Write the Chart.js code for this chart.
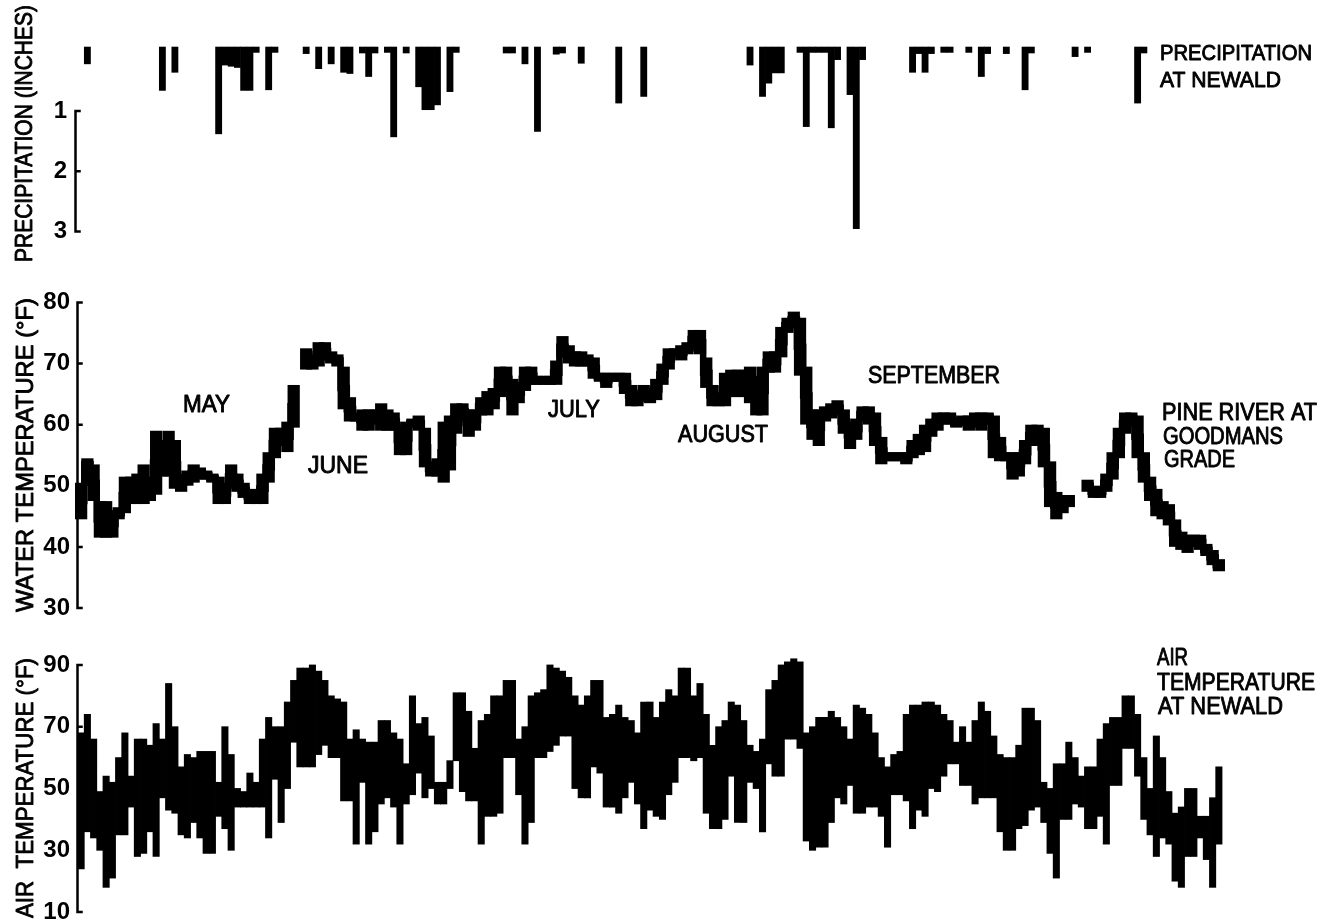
<!DOCTYPE html>
<html>
<head>
<meta charset="utf-8">
<title>Pine River at Goodmans Grade</title>
<script src="https://cdn.jsdelivr.net/npm/chart.js@4.4.1/dist/chart.umd.min.js"></script>
<style>
  html, body { margin: 0; padding: 0; background: #fff; overflow: hidden; width: 1324px; height: 921px; }
  canvas { position: absolute; left: 0; }
  #precipCanvas { top: 0; }
  #waterCanvas { top: 280px; }
  #airCanvas { top: 640px; }
</style>
</head>
<body>
<canvas id="precipCanvas" width="1324" height="290"></canvas>
<canvas id="waterCanvas" width="1324" height="360"></canvas>
<canvas id="airCanvas" width="1324" height="300"></canvas>
<script>
// Daily record, late April through late October (day index 0 = first day).
const dayCount = 183;

const precipTicks = [1, 2, 3];
const waterTicks = [30, 40, 50, 60, 70, 80];
const airTicks = [10, 30, 50, 70, 90];

// Daily precipitation at Newald, inches (ten days per row, null = no rain).
const precipInches = [
  null, 0.22, null, null, null, null, null, null, null, null,
  null, null, null, 0.66, null, 0.36, null, null, null, null,
  null, null, 1.38, 0.24, 0.26, 0.28, 0.66, 0.66, 0.03, null,
  0.65, 0.03, null, null, null, null, 0.05, null, 0.30, null,
  0.22, null, 0.36, 0.38, null, 0.04, 0.43, 0.04, null, 0.03,
  1.43, null, 0.04, null, 0.60, 0.98, 0.98, 0.90, null, 0.68,
  0.03, null, null, null, null, null, null, null, 0.04, 0.04,
  null, 0.22, null, 1.34, null, null, 0.06, 0.04, null, null,
  0.21, null, null, null, null, null, 0.87, null, null, null,
  0.76, null, null, null, null, null, null, null, null, null,
  null, null, null, null, null, null, null, 0.24, null, 0.76,
  0.54, 0.37, 0.37, null, null, 0.03, 1.26, 0.03, 0.03, 0.03,
  1.28, 0.15, null, 0.73, 2.95, 0.15, null, null, null, null,
  null, null, null, 0.36, 0.05, 0.36, 0.05, null, 0.03, 0.03,
  null, null, 0.03, null, 0.43, 0.05, null, null, 0.05, null,
  null, 0.65, 0.04, null, null, null, null, null, null, 0.10,
  null, 0.03, null, null, null, null, null, null, null, 0.87,
  0.04, null, null, null, null, null, null, null, null, null,
  null, null, null
];

// Daily minimum / maximum water temperature, Pine River at Goodmans Grade (°F).
const waterLow = [
  45, 53, 48, 42, 42, 42, 45, 46, 47.5, 47.5,
  47.5, 48, 49, 52, 52, 50, 49.5, 50.5, 51, 51.5,
  51.5, 51, 47.5, 47.5, 50, 49.5, 48.5, 47.5, 47.5, 47.5,
  51, 55, 57, 56, 60, null, 69.5, 69.5, 70, 71,
  70.5, 70, 63, 61, 61, 59.5, 59.5, 60.5, 59.5, 59.5,
  59.5, 55.5, 55.5, 60, 59.5, 53.5, 52, 52, 51, 53,
  59, 61.5, 58.5, 59.5, 62, 62, 63, 65, 66, 62,
  64, 66, 67, 67, 67, 67, 67, 71.5, 70.5, 70,
  70, 70, 68, 67.5, 66.5, 67.5, 67.5, 65.5, 63.5, 63.5,
  64.5, 64, 64.5, 67, 69.5, 71.5, 71, 72, 73, 72,
  66.5, 63.5, 63.5, 63.5, 65, 65, 65, 64, 62, 62,
  69, 69, 71.5, 75.5, 76.5, 68.5, 60.5, 58, 57, 61,
  61.5, 62, 59, 56.5, 58, 61, 60.5, 57, 54, 54.5,
  54.5, 54.5, 54, 55, 55.5, 56, 58.5, 59.5, 60.5, 60.5,
  60, 60.5, 59.5, 60, 59.5, 61, 55, 54.5, 54.5, 51.5,
  52, 54, 57, 57, 53.5, 47, 45, 46, 47, null,
  null, 49.5, 48.5, 48.5, 49.5, 51.5, 55, 59, 60.5, 55,
  51, 48, 45.5, 45, 44, 40.5, 40, 39.5, 40.5, 40,
  39, 37.5, 36.5
];
const waterHigh = [
  50, 54, 53, 47, 47, 45.5, 46, 51, 51, 51.5,
  53, 51, 58.5, 57, 58.5, 57, 51.5, 52, 53, 52.5,
  52, 51.5, 51, 50, 53, 51.5, 50, 49, 48, 51.5,
  55, 59, 59, 60, 66, null, 72, 71, 73, 73,
  71.5, 71, 69, 64, 61.5, 62, 62, 62, 63, 62,
  61.5, 59.5, 60, 60.5, 61, 59, 53.5, 54, 60, 61,
  63, 63, 62, 62, 64, 65, 65.5, 69, 69, 67,
  66.5, 69, 69, 67.5, 67.5, 67.5, 70, 74, 72.5, 71.5,
  71.5, 71, 70.5, 68, 68, 68, 68, 68, 66, 65,
  66, 65.5, 67, 69.5, 72, 72, 72.5, 73, 75, 75,
  70.5, 66, 64, 68, 68.5, 68.5, 68.5, 69, 67.5, 69,
  71.5, 71.5, 75.5, 77, 78, 77, 69, 62, 62, 62.5,
  63, 63.5, 62, 60, 60.5, 62.5, 62.5, 61.5, 57.5, 55,
  55, 55, 55, 57, 58, 59.5, 60.5, 61.5, 61.5, 61.5,
  60.5, 61, 61, 61.5, 61.5, 61.5, 61, 57.5, 55, 55,
  55, 57, 59.5, 59.5, 59, 53.5, 48.5, 48, 48, null,
  null, 50.5, 49.5, 49.5, 51.5, 55, 59, 61.5, 61.5, 61,
  55, 51, 49, 47, 46.5, 44, 42, 41.5, 41.5, 41.5,
  40, 39, 37.5
];

// Daily minimum / maximum air temperature at Newald (°F).
const airLow = [
  24, 36, 34, 30, 18, 21, 35, 35, 44, 28,
  29, 36, 28, 47, 43, 42, 35, 34, 39, 34,
  29, 29, 41, 37, 30, 44, 44, 44, 44, 44,
  34, 53, 39, 50, 65, 57, 57, 57, 61, 64,
  60, 60, 46, 46, 32, 52, 32, 36, 45, 47,
  44, 32, 45, 48, 55, 47, 50, 45, 45, 50,
  59, 49, 46, 46, 32, 41, 41, 42, 60, 60,
  48, 32, 39, 60, 60, 62, 64, 67, 67, 50,
  47, 47, 57, 55, 44, 44, 42, 47, 52, 45,
  37, 43, 41, 40, 48, 52, 60, 60, 59, 60,
  42, 37, 37, 40, 54, 39, 39, 52, 50, 36,
  58, 54, 54, 66, 66, 63, 33, 30, 31, 31,
  39, 47, 45, 51, 42, 42, 44, 44, 41, 31,
  48, 48, 46, 37, 43, 41, 50, 49, 54, 58,
  58, 51, 51, 45, 47, 47, 47, 36, 30, 30,
  37, 38, 43, 44, 39, 29, 21, 40, 40, 45,
  44, 37, 37, 41, 32, 51, 51, 63, 63, 54,
  40, 35, 28, 34, 32, 20, 18, 28, 28, 34,
  27, 18, 32
];
const airHigh = [
  68, 74, 66, 49, 54, 52, 60, 68, 54, 66,
  66, 64, 71, 66, 84, 70, 57, 61, 60, 62,
  62, 62, 52, 70, 61, 50, 49, 55, 52, 66,
  73, 70, 70, 78, 85, 89, 89, 90, 88, 85,
  80, 79, 78, 66, 69, 66, 65, 65, 72, 72,
  68, 66, 58, 80, 71, 73, 67, 52, 52, 59,
  81, 81, 75, 63, 72, 74, 80, 80, 85, 85,
  66, 70, 80, 81, 82, 90, 89, 88, 86, 80,
  77, 80, 85, 85, 73, 74, 77, 73, 72, 68,
  78, 78, 73, 78, 82, 80, 89, 89, 80, 84,
  74, 64, 70, 72, 78, 77, 72, 64, 62, 66,
  82, 85, 90, 91, 92, 91, 68, 70, 73, 73,
  75, 73, 70, 66, 77, 76, 74, 68, 60, 57,
  61, 62, 74, 77, 77, 78, 78, 77, 74, 72,
  65, 70, 65, 72, 78, 75, 67, 61, 60, 60,
  64, 76, 76, 72, 52, 50, 58, 58, 65, 60,
  54, 57, 57, 66, 71, 73, 73, 80, 80, 74,
  60, 50, 67, 60, 49, 42, 44, 50, 50, 41,
  41, 47, 57
];

const FONT = '"Liberation Sans", Arial, Helvetica, sans-serif';
Chart.defaults.font.family = FONT;
Chart.defaults.color = '#000';

// Draws a lettered caption (pen-weight stroke) fitted to a given run length.
function fitText(ctx, text, x, y, width, size, vertical) {
  ctx.save();
  ctx.font = size + 'px ' + FONT;
  ctx.fillStyle = '#000';
  ctx.strokeStyle = '#000';
  ctx.lineWidth = 0.9;
  ctx.lineJoin = 'round';
  ctx.textBaseline = 'alphabetic';
  ctx.textAlign = 'left';
  const sx = width / ctx.measureText(text).width;
  ctx.translate(x, y);
  if (vertical) ctx.rotate(-Math.PI / 2);
  ctx.scale(sx, 1);
  ctx.fillText(text, 0, 0);
  ctx.strokeText(text, 0, 0);
  ctx.restore();
}

// Bracket-style value axis with inward tick marks plus free captions.
function decorPlugin(panelTop, axisTicks, axisShift, captions) {
  return {
    id: 'decor',
    afterDatasetsDraw(chart) {
      const ctx = chart.ctx;
      const y = chart.scales.y;
      const x0 = chart.chartArea.left - axisShift;
      const yA = y.getPixelForValue(axisTicks[0]);
      const yB = y.getPixelForValue(axisTicks[axisTicks.length - 1]);
      ctx.save();
      ctx.strokeStyle = '#000';
      ctx.lineWidth = 2.5;
      ctx.lineCap = 'square';
      ctx.beginPath();
      ctx.moveTo(x0, Math.min(yA, yB));
      ctx.lineTo(x0, Math.max(yA, yB));
      axisTicks.forEach(v => {
        const py = y.getPixelForValue(v);
        ctx.moveTo(x0, py);
        ctx.lineTo(x0 + 4, py);
      });
      ctx.stroke();
      ctx.restore();
      captions.forEach(c => fitText(ctx, c.text, c.x, c.y - panelTop, c.w, c.size, c.vertical));
    }
  };
}

function panelOptions(o) {
  return {
    responsive: false,
    animation: false,
    events: [],
    layout: { padding: { top: o.padTop, bottom: o.padBottom, left: 0, right: 102 } },
    plugins: { legend: { display: false }, tooltip: { enabled: false } },
    scales: {
      x: { type: 'linear', min: 0, max: dayCount, display: false, offset: false },
      y: {
        type: 'linear',
        min: o.min, max: o.max, reverse: !!o.reverse,
        grid: { display: false, drawTicks: false },
        border: { display: false },
        afterFit(s) { s.width = 78; },
        afterBuildTicks(s) { s.ticks = o.ticks.map(v => ({ value: v })); },
        ticks: { padding: o.tickPad, font: { size: 24, weight: 'bold' }, color: '#000', autoSkip: false }
      }
    }
  };
}

// ---- Precipitation (bars hang from the top line) ----
const precipData = [];
precipInches.forEach((v, i) => { if (v !== null) precipData.push({ x: i + 0.5, y: v }); });

new Chart(document.getElementById('precipCanvas'), {
  type: 'bar',
  data: {
    datasets: [{
      data: precipData,
      base: -0.06,
      backgroundColor: '#000',
      borderWidth: 0,
      barPercentage: 1,
      categoryPercentage: 1,
      inflateAmount: 0.3,
      clip: false
    }]
  },
  options: panelOptions({ padTop: 47, padBottom: 58.4, min: -0.06, max: 3, reverse: true, ticks: precipTicks, tickPad: 11 }),
  plugins: [decorPlugin(0, precipTicks, 2.5, [
    { text: 'PRECIPITATION (INCHES)', x: 32, y: 262, w: 257, size: 24, vertical: true },
    { text: 'PRECIPITATION', x: 1160, y: 60, w: 152, size: 22 },
    { text: 'AT NEWALD', x: 1160, y: 86.5, w: 121, size: 22 }
  ])]
});

// ---- Water temperature (daily range bars joined by a stepped trace) ----
const waterBars = [];
const waterTrace = [];
for (let i = 0; i < dayCount; i++) {
  const lo = waterLow[i], hi = waterHigh[i];
  if (lo === null || hi === null) { waterTrace.push({ x: i + 0.5, y: null }); continue; }
  waterBars.push({ x: i + 0.5, y: [lo, hi] });
  waterTrace.push({ x: i + 0.5, y: (lo + hi) / 2 });
}

new Chart(document.getElementById('waterCanvas'), {
  type: 'bar',
  data: {
    datasets: [
      {
        type: 'bar',
        data: waterBars,
        backgroundColor: '#000',
        borderWidth: 0,
        barPercentage: 1,
        categoryPercentage: 1,
        inflateAmount: 3,
        clip: false
      },
      {
        type: 'line',
        data: waterTrace,
        borderColor: '#000',
        borderWidth: 6.5,
        stepped: 'middle',
        spanGaps: false,
        pointRadius: 0,
        borderCapStyle: 'butt',
        borderJoinStyle: 'miter',
        clip: false
      }
    ]
  },
  options: panelOptions({ padTop: 19, padBottom: 32, min: 30, max: 80, ticks: waterTicks, tickPad: 8 }),
  plugins: [decorPlugin(280, waterTicks, 0.5, [
    { text: 'WATER TEMPERATURE (°F)', x: 33, y: 612, w: 314, size: 24, vertical: true },
    { text: 'MAY', x: 183, y: 411.5, w: 47, size: 23 },
    { text: 'JUNE', x: 308, y: 473, w: 60, size: 23 },
    { text: 'JULY', x: 548, y: 416.5, w: 52, size: 23 },
    { text: 'AUGUST', x: 678, y: 441.5, w: 90, size: 23 },
    { text: 'SEPTEMBER', x: 868, y: 383, w: 132, size: 23 },
    { text: 'PINE RIVER AT', x: 1162, y: 420, w: 155, size: 23 },
    { text: 'GOODMANS', x: 1163, y: 443.5, w: 120, size: 23 },
    { text: 'GRADE', x: 1164, y: 467, w: 71, size: 23 }
  ])]
});

// ---- Air temperature (daily min-max bars) ----
const airBars = [];
for (let i = 0; i < dayCount; i++) airBars.push({ x: i + 0.5, y: [airLow[i], airHigh[i]] });

new Chart(document.getElementById('airCanvas'), {
  type: 'bar',
  data: {
    datasets: [{
      data: airBars,
      backgroundColor: '#000',
      borderWidth: 0,
      barPercentage: 1,
      categoryPercentage: 1,
      inflateAmount: 0.4,
      clip: false
    }]
  },
  options: panelOptions({ padTop: 25, padBottom: 28, min: 10, max: 90, ticks: airTicks, tickPad: 8 }),
  plugins: [decorPlugin(640, airTicks, 0.5, [
    { text: 'AIR  TEMPERATURE (°F)', x: 33, y: 918, w: 260, size: 24, vertical: true },
    { text: 'AIR', x: 1157, y: 665, w: 31, size: 23 },
    { text: 'TEMPERATURE', x: 1157, y: 690, w: 158, size: 23 },
    { text: 'AT NEWALD', x: 1158, y: 713.5, w: 125, size: 23 }
  ])]
});
</script>
</body>
</html>
